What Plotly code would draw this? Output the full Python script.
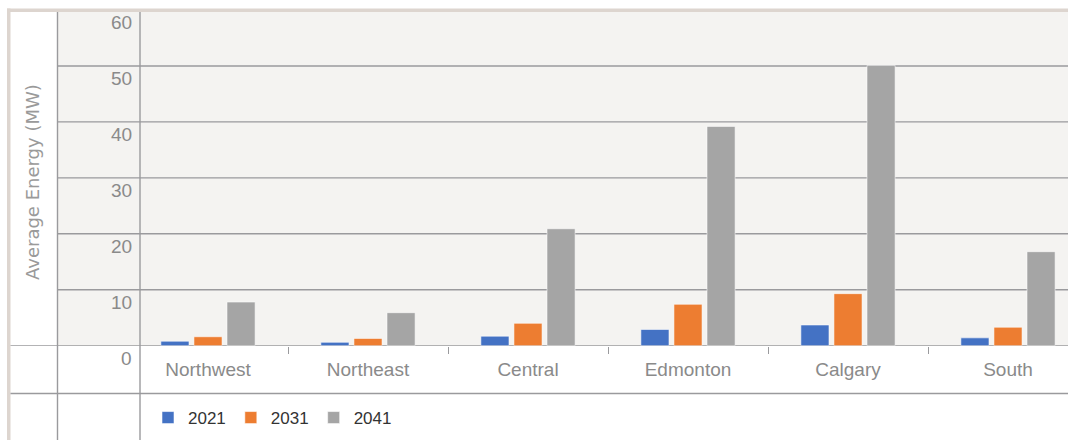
import plotly.graph_objects as go

W, H = 1068, 440

regions = ["Northwest", "Northeast", "Central", "Edmonton", "Calgary", "South"]
series_names = ["2021", "2031", "2041"]
values_2021 = [0.8, 0.6, 1.7, 2.9, 3.7, 1.4]
values_2031 = [1.6, 1.3, 4.0, 7.4, 9.3, 3.3]
values_2041 = [7.8, 5.9, 20.9, 39.2, 50.1, 16.8]
colors = ["#4472c4", "#ed7d31", "#a5a5a5"]
y_ticks = [0, 10, 20, 30, 40, 50, 60]
y_title = "Average Energy (MW)"


def px(p):
    return p / W


def py(p):
    return 1 - p / H


fig = go.Figure()
for name, vals, col in zip(series_names, [values_2021, values_2031, values_2041], colors):
    fig.add_trace(go.Bar(
        x=regions, y=vals, name=name,
        marker=dict(color=col, line=dict(color="rgba(255,255,255,0.55)", width=1)),
    ))

line_col = "#9a9a9d"
shapes = []
# background panel
shapes.append(dict(type="rect", xref="paper", yref="paper", x0=px(57), x1=1, y0=py(345.7), y1=py(11),
                   fillcolor="#f4f3f1", line=dict(width=0), layer="below"))
# beige frame
shapes.append(dict(type="rect", xref="paper", yref="paper", x0=px(7), x1=1, y0=py(12), y1=py(8.5),
                   fillcolor="#ddd5cf", line=dict(width=0), layer="below"))
shapes.append(dict(type="rect", xref="paper", yref="paper", x0=px(7), x1=px(10.5), y0=0, y1=py(8.5),
                   fillcolor="#ddd5cf", line=dict(width=0), layer="below"))
# gridlines
for t in y_ticks:
    if t == 0:
        shapes.append(dict(type="line", xref="paper", yref="y", x0=px(10.5), x1=1, y0=0, y1=0,
                           line=dict(color=line_col, width=1.4), layer="below"))
    elif t < 60:
        shapes.append(dict(type="line", xref="paper", yref="y", x0=px(57), x1=1, y0=t, y1=t,
                           line=dict(color=line_col, width=1.4), layer="below"))
# table lines
shapes.append(dict(type="line", xref="paper", yref="paper", x0=px(10.5), x1=1, y0=py(393.5), y1=py(393.5),
                   line=dict(color=line_col, width=1.4), layer="below"))
for xv in (57.5, 140):
    shapes.append(dict(type="line", xref="paper", yref="paper", x0=px(xv), x1=px(xv), y0=0, y1=py(12),
                       line=dict(color=line_col, width=1.4), layer="below"))

annotations = []
for t in y_ticks:
    annotations.append(dict(xref="paper", yref="y", x=px(134), y=t, xanchor="right", yanchor="middle",
                            yshift=-12.5, text=str(t), showarrow=False,
                            font=dict(size=19, color="#8a8a8a")))
annotations.append(dict(xref="paper", yref="paper", x=px(33), y=py(182), text=y_title, textangle=-90,
                        showarrow=False, xanchor="center", yanchor="middle",
                        font=dict(size=18, color="#9a9a9a", family="DejaVu Sans")))

fig.update_layout(
    width=W, height=H,
    margin=dict(l=0, r=0, t=0, b=0),
    paper_bgcolor="white",
    plot_bgcolor="rgba(0,0,0,0)",
    font=dict(family="Liberation Sans, Arial, sans-serif"),
    barmode="group",
    bargap=0.38,
    bargroupgap=0.15,
    shapes=shapes,
    annotations=annotations,
    showlegend=True,
    legend=dict(orientation="h", x=px(148), y=py(418), xanchor="left", yanchor="middle",
                font=dict(size=17, color="#333333"), bgcolor="rgba(0,0,0,0)", itemwidth=30,
                traceorder="normal"),
    xaxis=dict(domain=[px(140), 1], type="category", range=[-0.425, 5.375],
               tickson="boundaries", ticks="outside", ticklen=7, tickcolor=line_col, tickwidth=1.4,
               showgrid=False, showline=False, zeroline=False, ticklabelstandoff=10,
               tickfont=dict(size=19, color="#8a8a8a")),
    yaxis=dict(domain=[py(345.7), py(10)], range=[0, 60], showticklabels=False,
               showgrid=False, zeroline=False, showline=False, ticks=""),
)

fig.write_html("out.html", config={"displayModeBar": False},
               post_script="document.body.style.margin='0';document.body.style.overflow='hidden';")
